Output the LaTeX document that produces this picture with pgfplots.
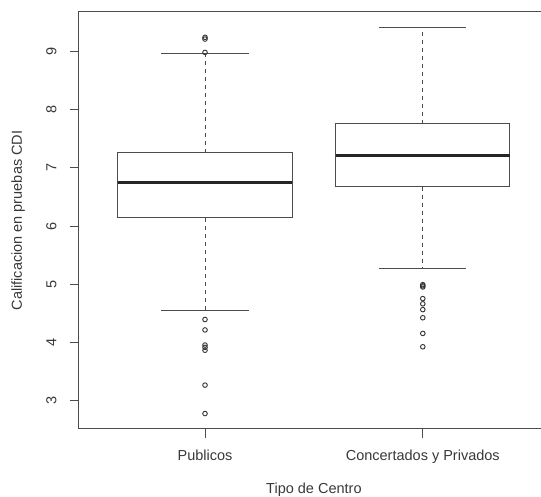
\documentclass[border=0pt]{standalone}
\usepackage{pgfplots}
\pgfplotsset{compat=1.18}
\usepgfplotslibrary{statistics}
\usepackage{fontspec}
\setmainfont{Liberation Sans}
\definecolor{ln}{gray}{0.3}
\definecolor{tx}{gray}{0.22}
\begin{document}
\begin{tikzpicture}[x=1pt,y=1pt]
\useasboundingbox (0,0) rectangle (541,497);
\clip (0,0) rectangle (541,497);
\begin{axis}[
  at={(78.7pt,68pt)}, anchor=south west,
  scale only axis, width=470.4pt, height=417pt,
  xmin=0.42, xmax=2.58, ymin=2.504, ymax=9.686,
  xtick={1,2}, xticklabels={Publicos, Concertados y Privados},
  ytick={3,4,5,6,7,8,9},
  tick align=outside, xtick pos=bottom, ytick pos=left,
  major tick length=9pt,
  tick style={ln, line width=0.9pt},
  axis line style={ln, line width=1pt},
  tick label style={tx, font=\fontsize{14.5}{17}\selectfont},
  label style={tx, font=\fontsize{14.5}{17}\selectfont},
  yticklabel style={rotate=90, anchor=south, inner xsep=0pt, inner ysep=13pt},
  xticklabel style={anchor=north, inner xsep=0pt, inner ysep=12pt},
  /pgf/number format/assume math mode=true,
  xlabel={Tipo de Centro}, ylabel={Calificacion en pruebas CDI},
  xlabel style={at={(axis description cs:0.5,0)}, anchor=center, yshift=-61pt},
  ylabel style={at={(axis description cs:-0.129,0.5)}, anchor=center},
  boxplot/draw direction=y,
  boxplot/every box/.style={draw=ln, line width=1pt, fill=white},
  boxplot/every median/.style={draw=black!85, line width=3pt},
  boxplot/draw/lower whisker/.code={%
    \draw[ln, line width=1pt, dash pattern=on 4pt off 4pt]
      (boxplot cs:\pgfplotsboxplotvalue{lower quartile}) -- (boxplot cs:\pgfplotsboxplotvalue{lower whisker});
    \draw[ln, line width=1pt, solid]
      (boxplot whisker cs:\pgfplotsboxplotvalue{lower whisker},0) -- (boxplot whisker cs:\pgfplotsboxplotvalue{lower whisker},1);
  },
  boxplot/draw/upper whisker/.code={%
    \draw[ln, line width=1pt, dash pattern=on 4pt off 4pt]
      (boxplot cs:\pgfplotsboxplotvalue{upper quartile}) -- (boxplot cs:\pgfplotsboxplotvalue{upper whisker});
    \draw[ln, line width=1pt, solid]
      (boxplot whisker cs:\pgfplotsboxplotvalue{upper whisker},0) -- (boxplot whisker cs:\pgfplotsboxplotvalue{upper whisker},1);
  },
]
\addplot[ln, mark=o, mark size=2.3pt, mark options={solid, line width=0.9pt, draw=black!80},
  boxplot prepared={draw position=1, lower whisker=4.545, lower quartile=6.143,
    median=6.749, upper quartile=7.265, upper whisker=8.966,
    box extend=0.8, whisker extend=0.4}]
  table[row sep=\\, y index=0] {d\\ 9.25\\ 9.22\\ 8.99\\ 4.39\\ 4.21\\ 3.95\\ 3.91\\ 3.86\\ 3.26\\ 2.77\\};
\addplot[ln, mark=o, mark size=2.3pt, mark options={solid, line width=0.9pt, draw=black!80},
  boxplot prepared={draw position=2, lower whisker=5.267, lower quartile=6.675,
    median=7.208, upper quartile=7.763, upper whisker=9.419,
    box extend=0.8, whisker extend=0.4}]
  table[row sep=\\, y index=0] {d\\ 4.99\\ 4.97\\ 4.95\\ 4.75\\ 4.66\\ 4.56\\ 4.42\\ 4.15\\ 3.92\\};
\end{axis}
\end{tikzpicture}
\end{document}
